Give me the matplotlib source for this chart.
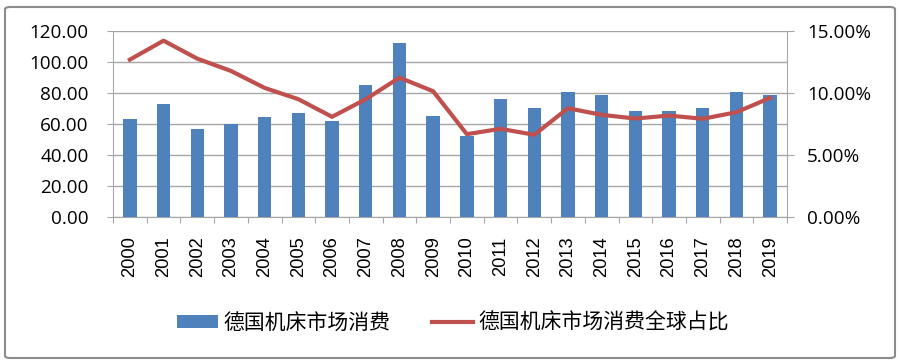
import matplotlib
matplotlib.use("Agg")
import matplotlib.pyplot as plt
from matplotlib.patches import FancyBboxPatch
from matplotlib.ticker import FuncFormatter, MultipleLocator
import numpy as np

plt.rcParams['font.family'] = ['Noto Sans CJK SC', 'DejaVu Sans']

years = [str(y) for y in range(2000, 2020)]
consumption = [63.0, 73.2, 56.7, 59.7, 64.6, 67.4, 61.8, 85.2, 112.3, 65.0,
               52.4, 76.2, 70.4, 80.7, 78.4, 68.7, 68.7, 70.4, 80.7, 78.4]
share_pct = [12.69, 14.22, 12.77, 11.78, 10.41, 9.50, 8.08, 9.50, 11.24, 10.14,
             6.68, 7.11, 6.63, 8.77, 8.24, 7.94, 8.18, 7.92, 8.45, 9.61]
bar_label = "德国机床市场消费"
line_label = "德国机床市场消费全球占比"

W, H = 900, 364
fig = plt.figure(figsize=(W / 100, H / 100), dpi=100)
fig.patch.set_facecolor('white')

border = FancyBboxPatch((5 / W, 1 - 358 / H), 890 / W, 351 / H,
                        boxstyle="round,pad=0,rounding_size=0.006",
                        transform=fig.transFigure, fill=False,
                        edgecolor='#8c8c8c', linewidth=1.5)
fig.patches.append(border)

left, right, top, bottom = 113, 787, 31, 217
ax = fig.add_axes([left / W, 1 - bottom / H, (right - left) / W, (bottom - top) / H])
ax2 = ax.twinx()

x = np.arange(len(years))
ax.bar(x, consumption, width=0.4, color='#4f81bd', label=bar_label, zorder=3)
ax2.plot(x, share_pct, color='#c0504d', linewidth=3, label=line_label,
         solid_joinstyle='round', zorder=4)

ax.set_xlim(-0.5, len(years) - 0.5)
ax.set_ylim(0, 120)
ax2.set_ylim(0, 15)
ax.yaxis.set_major_locator(MultipleLocator(20))
ax2.yaxis.set_major_locator(MultipleLocator(5))
ax.yaxis.set_major_formatter(FuncFormatter(lambda v, p: f"{v:.2f}"))
ax2.yaxis.set_major_formatter(FuncFormatter(lambda v, p: f"{v:.2f}%"))

ax.grid(axis='y', color='#a6a6a6', linewidth=1, zorder=0)
ax.set_axisbelow(True)

for a in (ax, ax2):
    a.spines['top'].set_visible(False)
    for s in ('left', 'right', 'bottom'):
        a.spines[s].set_color('#a6a6a6')
ax2.spines['left'].set_visible(False)
ax.spines['right'].set_visible(False)
ax2.spines['bottom'].set_visible(False)

ax.set_xticks(np.arange(-0.5, len(years), 1.0), minor=False)
ax.set_xticklabels([])
ax.tick_params(axis='x', which='major', length=4.5, color='#a6a6a6', direction='out')
ax.set_xticks(x, minor=True)
ax.set_xticklabels(years, minor=True, rotation=90, fontsize=13.2,
                   family=['Liberation Sans', 'DejaVu Sans'])
ax.tick_params(axis='x', which='minor', length=0, pad=14)

ax.tick_params(axis='y', length=4.5, color='#a6a6a6', labelsize=13.6, pad=13)
ax2.tick_params(axis='y', length=5, color='#a6a6a6', labelsize=13.6, pad=9.5)
for lab in ax.get_yticklabels() + ax2.get_yticklabels():
    lab.set_family(['Open Sans', 'DejaVu Sans'])

h1, l1 = ax.get_legend_handles_labels()
h2, l2 = ax2.get_legend_handles_labels()
fig.legend(h1 + h2, l1 + l2, loc='center', bbox_to_anchor=(453 / W, 1 - 323 / H),
           ncol=2, frameon=False, fontsize=15, handlelength=1.97,
           handleheight=0.55, columnspacing=2.0, handletextpad=0.24,
           borderpad=0.2)

fig.savefig("out.png", dpi=100, facecolor='white')
